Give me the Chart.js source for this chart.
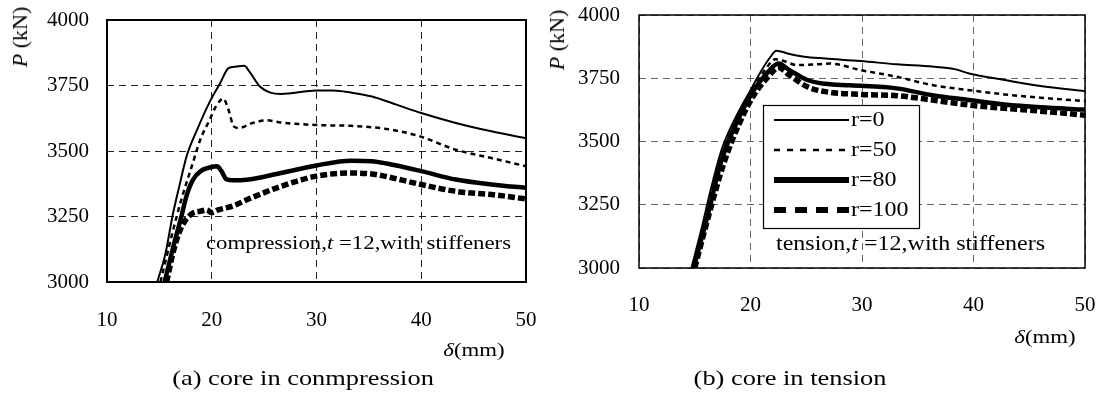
<!DOCTYPE html>
<html>
<head>
<meta charset="utf-8">
<script src="https://cdn.jsdelivr.net/npm/chart.js@4.4.1/dist/chart.umd.min.js"></script>
<style>
body { margin: 0; background: #fff; }
#wrap { position: relative; width: 1102px; height: 396px; overflow: hidden; font-family: "Liberation Serif", "Times New Roman", serif; color: #000; }
canvas { position: absolute; top: 0; }
.txt { position: absolute; white-space: nowrap; line-height: 1; }
.mid { transform: translate(-50%, -50%) scaleX(1.2); }
.lft { transform: translateY(-50%) scaleX(1.2); transform-origin: left center; }
.rot { transform: translate(-50%, -50%) rotate(-90deg); }
</style>
</head>
<body>
<div id="wrap">
  <canvas id="compChart" width="560" height="370" style="left:0"></canvas>
  <canvas id="tensChart" width="562" height="370" style="left:540px"></canvas>

  <div class="txt rot" style="left:20px; top:37px; font-size:22px"><i>P</i> (kN)</div>
  <div class="txt rot" style="left:557px; top:40px; font-size:22px"><i>P</i> (kN)</div>

  <div class="txt lft" style="left:206px; top:242px; font-size:19px">compression,<i>t</i> =12,with stiffeners</div>
  <div class="txt lft" style="left:776px; top:243px; font-size:20px">tension,<i>t</i> =12,with stiffeners</div>

  <div class="txt mid" style="left:474px; top:349px; font-size:19px"><i>δ</i>(mm)</div>
  <div class="txt mid" style="left:1045px; top:336px; font-size:19px"><i>δ</i>(mm)</div>

  <div class="txt mid" style="left:303px; top:378px; font-size:22px">(a) core in conmpression</div>
  <div class="txt mid" style="left:790px; top:378px; font-size:22px">(b) core in tension</div>
</div>
<script>
const xTicks = [10, 20, 30, 40, 50];
const yTicks = [3000, 3250, 3500, 3750, 4000];
const seriesLabels = ['r=0', 'r=50', 'r=80', 'r=100'];

// (a) core in compression
const compR0x = [14.8, 15.6, 16.25, 16.9, 17.6, 18.6, 19.9, 20.8, 21.6, 22.3, 23.1, 23.6, 24.6, 25.6, 26.6, 30.0, 31.6, 33.3, 35.3, 37.7, 40.0, 43.3, 46.7, 50.0];
const compR0y = [3000, 3112, 3251, 3365, 3480, 3581, 3695, 3759, 3816, 3822, 3825, 3803, 3746, 3723, 3718, 3731, 3731, 3723, 3708, 3676, 3645, 3607, 3575, 3549];
const compR50x = [15.1, 16.25, 17.1, 18.1, 18.9, 19.8, 20.4, 21.1, 21.6, 22.1, 22.6, 23.9, 25.3, 26.6, 30, 33.3, 36.7, 39.7, 43.3, 46.7, 50];
const compR50y = [3000, 3188, 3315, 3442, 3543, 3619, 3670, 3700, 3657, 3594, 3588, 3607, 3617, 3609, 3599, 3596, 3584, 3558, 3505, 3473, 3442];
const compR80x = [15.5, 16.3, 17.1, 17.6, 18.2, 19.0, 19.8, 20.5, 20.9, 21.4, 22.0, 23.3, 26.6, 30, 33.3, 35.3, 36.7, 40, 43.3, 46.7, 50];
const compR80y = [3000, 3130, 3250, 3330, 3390, 3425, 3437, 3442, 3425, 3392, 3388, 3390, 3416, 3445, 3463, 3461, 3452, 3423, 3391, 3372, 3359];
const compR100x = [15.7, 16.3, 16.9, 17.4, 17.8, 18.3, 18.9, 19.5, 20.0, 20.6, 22.0, 23.7, 26.6, 30, 33.3, 35.3, 40, 43.3, 46.7, 50];
const compR100y = [3000, 3111, 3190, 3230, 3250, 3265, 3270, 3275, 3265, 3275, 3290, 3320, 3365, 3404, 3416, 3412, 3372, 3346, 3334, 3317];

// (b) core in tension
const tensR0x = [14.7, 15.5, 16.5, 17.4, 18.7, 20.0, 21.0, 21.8, 22.3, 23.5, 24.8, 26.7, 29.9, 33.1, 36.3, 38.3, 39.6, 42.8, 46.0, 50];
const tensR0y = [3000, 3136, 3321, 3466, 3598, 3703, 3782, 3835, 3859, 3846, 3835, 3828, 3818, 3805, 3796, 3786, 3769, 3743, 3719, 3699];
const tensR50x = [14.9, 16.2, 17.4, 19.0, 20.3, 21.4, 22.2, 22.9, 24.2, 25.5, 27.1, 29.9, 33.1, 36.3, 39.6, 42.8, 46.0, 50];
const tensR50y = [3000, 3241, 3439, 3611, 3716, 3789, 3825, 3819, 3802, 3804, 3808, 3782, 3756, 3723, 3703, 3686, 3673, 3660];
const tensR80x = [14.9, 16.2, 17.4, 19.0, 20.3, 21.6, 22.5, 23.5, 25.1, 26.7, 28.9, 33.1, 36.3, 39.6, 42.8, 46.0, 50];
const tensR80y = [3000, 3215, 3426, 3598, 3703, 3776, 3808, 3782, 3743, 3728, 3722, 3710, 3683, 3664, 3646, 3635, 3626];
const tensR100x = [15.0, 16.3, 17.6, 19.0, 20.3, 21.6, 22.5, 23.5, 25.1, 26.7, 29.9, 33.1, 36.3, 39.6, 42.8, 46.0, 50];
const tensR100y = [3000, 3215, 3413, 3571, 3683, 3756, 3792, 3762, 3716, 3697, 3686, 3681, 3664, 3644, 3631, 3620, 3604];

// line looks per series
const lineWidths = [2, 2.5, 4.5, 5.5];
const lineDashes = [[], [5, 4], [], [7, 3]];
const legendWidths = [2, 2.5, 6, 6];
const legendDashes = [[], [6, 7], [], [12, 9]];

const tickFont = { family: 'Liberation Serif', size: 21 };

function points(xs, ys) {
    return xs.map((x, i) => ({ x: x, y: ys[i] }));
}

function makeDatasets(series) {
    return series.map((s, i) => ({
        label: seriesLabels[i],
        data: points(s[0], s[1]),
        borderColor: '#000',
        borderWidth: lineWidths[i],
        borderDash: lineDashes[i],
        pointRadius: 0,
        fill: false,
        cubicInterpolationMode: 'monotone'
    }));
}

// solid frame round the plot area
const frame = {
    id: 'frame',
    afterDatasetsDraw(chart, args, opts) {
        const a = chart.chartArea;
        const ctx = chart.ctx;
        ctx.save();
        ctx.strokeStyle = '#000';
        ctx.lineWidth = opts.width || 1.5;
        ctx.setLineDash([]);
        ctx.strokeRect(a.left, a.top, a.right - a.left, a.bottom - a.top);
        ctx.restore();
    }
};

// boxed legend sitting inside the tension plot
const legendBox = {
    id: 'legendBox',
    afterDraw(chart, args, opts) {
        if (!opts.show) return;
        const a = chart.chartArea;
        const ctx = chart.ctx;
        const x = a.left + 124, y = a.top + 90, w = 156, h = 123;
        ctx.save();
        ctx.fillStyle = '#fff';
        ctx.fillRect(x, y, w, h);
        ctx.strokeStyle = '#000';
        ctx.lineWidth = 1.2;
        ctx.strokeRect(x + 0.5, y + 0.5, w, h);
        ctx.fillStyle = '#000';
        ctx.font = '20px "Liberation Serif"';
        ctx.textBaseline = 'middle';
        chart.data.datasets.forEach((ds, i) => {
            const ry = y + 15 + i * 30;
            ctx.beginPath();
            ctx.lineWidth = legendWidths[i];
            ctx.setLineDash(legendDashes[i]);
            ctx.moveTo(x + 11, ry);
            ctx.lineTo(x + 86, ry);
            ctx.stroke();
            ctx.setLineDash([]);
            ctx.save();
            ctx.translate(x + 88, ry + 1);
            ctx.scale(1.2, 1);
            ctx.fillText(ds.label, 0, 0);
            ctx.restore();
        });
        ctx.restore();
    }
};

function makeChart(id, series, box) {
    const ctx = document.getElementById(id).getContext('2d');
    return new Chart(ctx, {
        type: 'line',
        data: { datasets: makeDatasets(series) },
        plugins: [frame, legendBox],
        options: {
            responsive: false,
            animation: false,
            devicePixelRatio: 1,
            layout: { padding: box.padding },
            plugins: {
                legend: { display: false },
                tooltip: { enabled: false },
                frame: { width: box.frameWidth },
                legendBox: { show: box.legend }
            },
            scales: {
                x: {
                    type: 'linear',
                    min: 10,
                    max: 50,
                    afterBuildTicks: axis => { axis.ticks = xTicks.map(v => ({ value: v })); },
                    afterFit: axis => {
                        axis.height = 70;
                        axis.paddingLeft = 0;
                        axis.paddingRight = 0;
                    },
                    ticks: { color: '#000', font: tickFont, padding: box.xPad, autoSkip: false, maxRotation: 0, callback: v => String(v) },
                    grid: { color: box.gridColor, lineWidth: 1, drawTicks: false },
                    border: { display: false, dash: [7, 5] }
                },
                y: {
                    type: 'linear',
                    min: 3000,
                    max: 4000,
                    afterBuildTicks: axis => { axis.ticks = yTicks.map(v => ({ value: v })); },
                    afterFit: axis => {
                        axis.width = box.yWidth;
                        axis.paddingTop = 0;
                        axis.paddingBottom = 0;
                    },
                    ticks: { color: '#000', font: tickFont, padding: box.yPad, callback: v => String(v) },
                    grid: { color: box.gridColor, lineWidth: 1, drawTicks: false },
                    border: { display: false, dash: [7, 5] }
                }
            }
        }
    });
}

const compChart = makeChart('compChart', [
    [compR0x, compR0y], [compR50x, compR50y], [compR80x, compR80y], [compR100x, compR100y]
], { padding: { left: 0, right: 34, top: 20, bottom: 18 }, yWidth: 107, xPad: 26, yPad: 18, gridColor: '#222', frameWidth: 2, legend: false });

const tensChart = makeChart('tensChart', [
    [tensR0x, tensR0y], [tensR50x, tensR50y], [tensR80x, tensR80y], [tensR100x, tensR100y]
], { padding: { left: 0, right: 17, top: 15, bottom: 32 }, yWidth: 99, xPad: 25, yPad: 19, gridColor: '#666', frameWidth: 1.5, legend: true });
</script>
</body>
</html>
